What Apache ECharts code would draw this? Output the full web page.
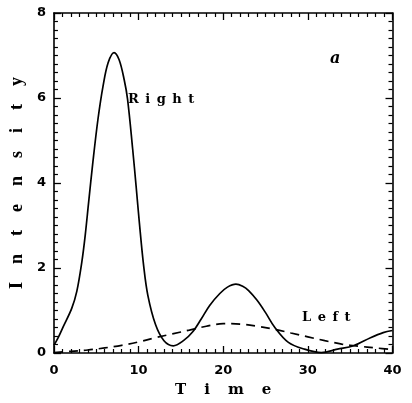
<!DOCTYPE html>
<html>
<head>
<meta charset="utf-8">
<script src="https://cdn.jsdelivr.net/npm/echarts@6/dist/echarts.min.js"></script>
<style>html,body{margin:0;padding:0;background:#fff}#c{width:412px;height:403px}</style>
</head>
<body>
<div id="c"></div>
<script>
// Right (solid) curve: [time, intensity]
var rightX = [0, 0.5, 1.1, 2.1, 2.7, 3.3, 3.7, 4.1, 4.6, 5.2, 5.8, 6.4, 7.1, 7.7, 8.3, 8.7, 9.3, 9.7, 10.1, 10.6, 11.1, 12.0, 13.0, 14.1, 15.3, 16.4, 17.4, 18.4, 19.6, 20.5, 21.5, 22.3, 23.0, 24.0, 25.0, 26.1, 27.7, 29.6, 31.6, 33.5, 35.4, 37.4, 38.9, 40];
var rightY = [0.18, 0.36, 0.62, 1.05, 1.45, 2.15, 2.78, 3.55, 4.49, 5.50, 6.28, 6.83, 7.07, 6.90, 6.43, 5.97, 4.80, 3.94, 3.05, 2.05, 1.35, 0.67, 0.29, 0.17, 0.29, 0.50, 0.80, 1.12, 1.40, 1.55, 1.62, 1.57, 1.47, 1.24, 0.95, 0.60, 0.25, 0.09, 0.01, 0.09, 0.17, 0.36, 0.48, 0.53];
// Left (dashed) curve
var leftX = [0, 2, 4, 6, 8, 10, 12, 14, 16, 18, 20, 22, 24, 26, 28, 30, 32, 34, 36, 38, 40];
var leftY = [0.01, 0.04, 0.07, 0.12, 0.18, 0.26, 0.36, 0.45, 0.54, 0.63, 0.69, 0.68, 0.63, 0.56, 0.47, 0.38, 0.29, 0.21, 0.16, 0.12, 0.08];
var xTicks = [0, 10, 20, 30, 40];
var yTicks = [0, 2, 4, 6, 8];

function pairs(xs, ys) { return xs.map(function (x, i) { return [x, ys[i]]; }); }

var chart = echarts.init(document.getElementById('c'), null, {renderer: 'canvas'});
var tickFont = {color: '#000', fontFamily: 'DejaVu Sans, sans-serif', fontWeight: 'bold', fontSize: 13};
var serif = 'DejaVu Serif, Liberation Serif, serif';
function axisCommon(showLabel) {
  return {
    axisLine: {show: true, onZero: false, lineStyle: {color: '#000', width: 1.6}},
    axisTick: {show: true, inside: true, length: 7, lineStyle: {color: '#000', width: 1.3}},
    minorTick: {show: true, splitNumber: 10, length: 4, lineStyle: {color: '#000', width: 1.2}},
    splitLine: {show: false},
    axisLabel: showLabel ? Object.assign({show: true}, tickFont) : {show: false}
  };
}
var xMain = Object.assign({type: 'value', min: xTicks[0], max: xTicks[xTicks.length - 1], interval: 10, position: 'bottom',
  name: 'T\u2003\u2009i\u2003\u2009m\u2003\u2009e', nameLocation: 'middle', nameGap: 30,
  nameTextStyle: {color: '#000', fontFamily: serif, fontWeight: 'bold', fontSize: 15}}, axisCommon(true));
xMain.axisLabel.margin = 11;
var xTop = Object.assign({type: 'value', min: 0, max: 40, interval: 10, position: 'top'}, axisCommon(false));
var yMain = Object.assign({type: 'value', min: yTicks[0], max: yTicks[yTicks.length - 1], interval: 2, position: 'left',
  name: 'I\u2003n\u2003t\u2003e\u2003n\u2003s\u2003i\u2003t\u2003y', nameLocation: 'middle', nameGap: 17, nameRotate: 90,
  nameTextStyle: {color: '#000', fontFamily: 'Liberation Serif, serif', fontWeight: 'bold', fontSize: 18}}, axisCommon(true));
yMain.axisLabel.margin = 8;
var yRight = Object.assign({type: 'value', min: 0, max: 8, interval: 2, position: 'right'}, axisCommon(false));

chart.setOption({
  animation: false,
  backgroundColor: '#fff',
  grid: {left: 48.5, right: 19.5, top: 13, bottom: 47.5, containLabel: false},
  xAxis: [xMain, xTop],
  yAxis: [yMain, yRight],
  series: [
    {name: 'Right', type: 'line', xAxisIndex: 0, yAxisIndex: 0, data: pairs(rightX, rightY), smooth: 0.35,
      showSymbol: false, lineStyle: {color: '#000', width: 1.7, type: 'solid'}},
    {name: 'Left', type: 'line', xAxisIndex: 0, yAxisIndex: 0, data: pairs(leftX, leftY), smooth: 0.35,
      showSymbol: false, lineStyle: {color: '#000', width: 1.7, type: [9, 6]}}
  ],
  graphic: [
    {type: 'text', left: 128, top: 93, style: {text: 'R\u2002i\u2002g\u2002h\u2002t', fill: '#000', font: 'bold 13px ' + serif}},
    {type: 'text', left: 302, top: 311, style: {text: 'L\u2002e\u2002f\u2002t', fill: '#000', font: 'bold 13px ' + serif}},
    {type: 'text', left: 330, top: 51, style: {text: 'a', fill: '#000', font: 'italic bold 16px ' + serif}}
  ]
});
</script>
</body>
</html>
